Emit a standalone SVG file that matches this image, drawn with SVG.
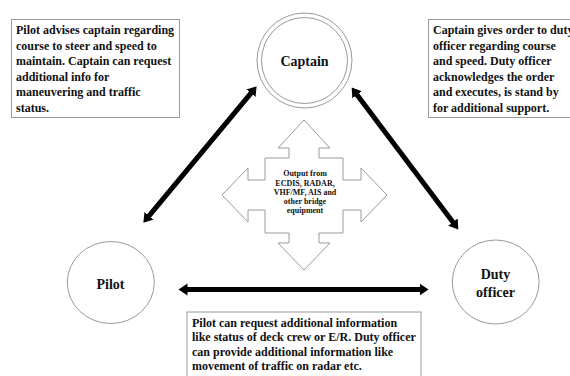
<svg xmlns="http://www.w3.org/2000/svg" width="570" height="376" viewBox="0 0 570 376">
<style>
text{font-family:"Liberation Serif","Times New Roman",serif;font-weight:bold;fill:#111;}
.box{fill:#fff;stroke:#9a9a9a;stroke-width:1;}
.note{font-size:12px;}
.node{fill:#fff;stroke:#9a9a9a;stroke-width:1;}
.lbl{font-size:14px;text-anchor:middle;}
.conn{stroke:#000;stroke-width:5;fill:none;}
.q{font-size:8px;text-anchor:middle;}
</style>
<defs>
<marker id="ah" markerUnits="userSpaceOnUse" markerWidth="10" markerHeight="14" viewBox="0 -7 10 14" refX="0.5" refY="0" orient="auto-start-reverse">
<path d="M0,-6 L9,0 L0,6 z" fill="#000"/>
</marker>
</defs>
<rect width="570" height="376" fill="#fff"/>

<g id="note-pilot-captain">
<rect class="box" x="11.5" y="19.5" width="168" height="98"/>
<text class="note" x="16" y="34">Pilot advises captain regarding</text>
<text class="note" x="16" y="49.5">course to steer and speed to</text>
<text class="note" x="16" y="65">maintain. Captain can request</text>
<text class="note" x="16" y="80.5">additional info for</text>
<text class="note" x="16" y="96">maneuvering and traffic</text>
<text class="note" x="16" y="111.5">status.</text>
</g>

<g id="note-captain-duty">
<rect class="box" x="428.5" y="19.5" width="150" height="98"/>
<text class="note" x="433" y="34">Captain gives order to duty</text>
<text class="note" x="433" y="49.5">officer regarding course</text>
<text class="note" x="433" y="65">and speed. Duty officer</text>
<text class="note" x="433" y="80.5">acknowledges the order</text>
<text class="note" x="433" y="96">and executes, is stand by</text>
<text class="note" x="433" y="111.5">for additional support.</text>
</g>

<g id="note-pilot-duty">
<rect class="box" x="187" y="312" width="234" height="80"/>
<text class="note" x="192" y="326.5">Pilot can request additional information</text>
<text class="note" x="192" y="341">like status of deck crew or E/R. Duty officer</text>
<text class="note" x="192" y="355.5">can provide additional information like</text>
<text class="note" x="192" y="370">movement of traffic on radar etc.</text>
</g>

<g id="captain">
<circle class="node" cx="304.5" cy="60.5" r="47.5"/>
<circle class="node" cx="304.5" cy="60.5" r="43"/>
<text class="lbl" x="304.5" y="65.5">Captain</text>
</g>

<g id="pilot">
<ellipse class="node" cx="110.8" cy="282.5" rx="43.5" ry="41"/>
<text class="lbl" x="110.5" y="288.5">Pilot</text>
</g>

<g id="duty-officer">
<ellipse class="node" cx="495.7" cy="282" rx="43.4" ry="42"/>
<text class="lbl" x="495.5" y="279">Duty</text>
<text class="lbl" x="495.5" y="297">officer</text>
</g>

<g id="bridge-output">
<polygon class="node" points="304,120 330,148 319,148 319,158 343,158 343,180 361,180 361,168 387,195 361,222 361,210 343,210 343,233 319,233 319,243 330,243 304,270 278,243 289,243 289,233 265,233 265,210 248,210 248,222 222,195 248,168 248,180 265,180 265,158 289,158 289,148 278,148"/>
<text class="q" x="305" y="176">Output  from</text>
<text class="q" x="305" y="185.5">ECDIS, RADAR,</text>
<text class="q" x="305" y="194.5">VHF/MF, AIS and</text>
<text class="q" x="305" y="203.5">other bridge</text>
<text class="q" x="305" y="212.5">equipment</text>
</g>

<g id="connectors">
<line class="conn" x1="148.8" y1="216.1" x2="251.2" y2="92.9" marker-start="url(#ah)" marker-end="url(#ah)"/>
<line class="conn" x1="356.8" y1="94.4" x2="453.2" y2="222.6" marker-start="url(#ah)" marker-end="url(#ah)"/>
<line class="conn" x1="187" y1="289.5" x2="420" y2="289.5" stroke-width="6" marker-start="url(#ah)" marker-end="url(#ah)"/>
</g>
</svg>
